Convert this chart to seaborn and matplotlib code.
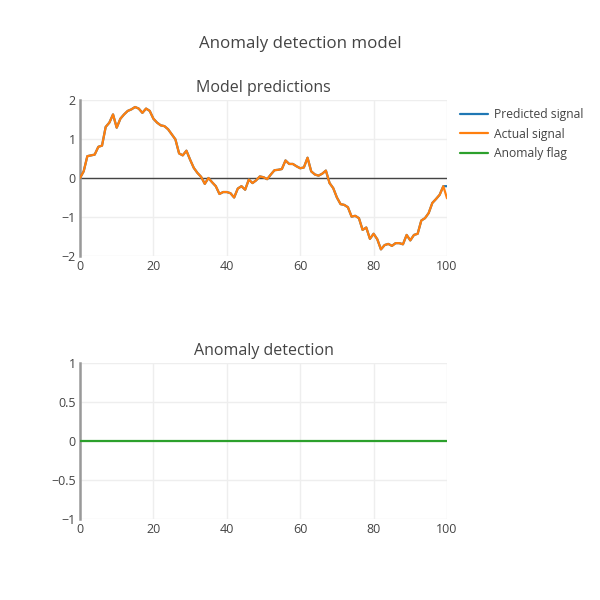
import numpy as np
import pandas as pd
import matplotlib
matplotlib.use("Agg")
import matplotlib.pyplot as plt
import seaborn as sns
from matplotlib.lines import Line2D

x_vals = list(range(0, 101))
actual = [0.00, 0.17, 0.56, 0.58, 0.60, 0.80, 0.83, 1.31, 1.42, 1.63,
          1.29, 1.52, 1.63, 1.72, 1.76, 1.82, 1.78, 1.67, 1.78, 1.72,
          1.52, 1.42, 1.35, 1.33, 1.25, 1.12, 0.99, 0.63, 0.58, 0.70,
          0.47, 0.26, 0.13, 0.03, -0.15, 0.00, -0.11, -0.21, -0.41, -0.36,
          -0.36, -0.39, -0.50, -0.27, -0.21, -0.30, -0.04, -0.13, -0.06, 0.04,
          0.02, -0.03, 0.09, 0.20, 0.21, 0.23, 0.45, 0.36, 0.36, 0.30,
          0.25, 0.27, 0.52, 0.17, 0.09, 0.06, 0.11, 0.19, -0.13, -0.26,
          -0.50, -0.67, -0.69, -0.75, -0.99, -0.97, -1.03, -1.33, -1.27, -1.56,
          -1.43, -1.57, -1.83, -1.72, -1.69, -1.74, -1.67, -1.67, -1.70, -1.46,
          -1.60, -1.46, -1.43, -1.09, -1.03, -0.90, -0.64, -0.54, -0.43, -0.21,
          -0.52]
predicted = actual[:-1] + [-0.21]
anomaly = [0] * 101

series_names = ["Predicted signal", "Actual signal", "Anomaly flag"]
colors = ["#1f77b4", "#ff7f0e", "#2ca02c"]

top_yticks = [-2, -1, 0, 1, 2]
top_ylabels = ["\u22122", "\u22121", "0", "1", "2"]
bot_yticks = [-1, -0.5, 0, 0.5, 1]
bot_ylabels = ["\u22121", "\u22120.5", "0", "0.5", "1"]
xticks = [0, 20, 40, 60, 80, 100]

sns.set_theme(style="white")
plt.rcParams['font.family'] = ['Open Sans', 'DejaVu Sans']
txt = "#444444"

fig = plt.figure(figsize=(6, 6), dpi=100)
ax1 = fig.add_axes([80/600, 1-256/600, 367/600, 156/600])
ax2 = fig.add_axes([80/600, 1-519/600, 367/600, 156/600])

df_top = pd.DataFrame({"x": x_vals * 2,
                       "y": predicted + actual,
                       "series": [series_names[0]] * 101 + [series_names[1]] * 101})
df_bot = pd.DataFrame({"x": x_vals, "y": anomaly})

for ax in (ax1, ax2):
    ax.set_xlim(0, 100)
    ax.set_xticks(xticks)
    ax.set_xticklabels([str(t) for t in xticks])
    ax.grid(True, color="#eeeeee", linewidth=1)
    ax.set_axisbelow(True)
    for s in ["top", "right", "bottom"]:
        ax.spines[s].set_visible(False)
    ax.spines["left"].set_color("#999999")
    ax.spines["left"].set_linewidth(1.8)
    ax.tick_params(axis="both", length=0, labelsize=9, colors=txt, pad=3)
    ax.set_facecolor("white")

ax1.axhline(0, color="#444444", linewidth=1, zorder=1)
sns.lineplot(data=df_top, x="x", y="y", hue="series", palette=colors[:2],
             ax=ax1, linewidth=1.6, legend=False, zorder=3)
ax1.set_ylim(-2, 2)
ax1.set_yticks(top_yticks)
ax1.set_yticklabels(top_ylabels)
ax1.set_xlabel("")
ax1.set_ylabel("")
ax1.set_title("Model predictions", fontsize=11.5, color=txt, pad=6)

sns.lineplot(data=df_bot, x="x", y="y", color=colors[2], ax=ax2, linewidth=1.6, zorder=3)
ax2.set_ylim(-1, 1)
ax2.set_yticks(bot_yticks)
ax2.set_yticklabels(bot_ylabels)
ax2.set_xlabel("")
ax2.set_ylabel("")
ax2.set_title("Anomaly detection", fontsize=11.5, color=txt, pad=6)

fig.text(0.5, 1-44/600, "Anomaly detection model", ha="center", va="center",
         fontsize=12.2, color=txt)

handles = [Line2D([0], [0], color=c, linewidth=1.6) for c in colors]
leg = fig.legend(handles, series_names, loc="upper left",
                 bbox_to_anchor=(460/600, 1-108/600), frameon=False,
                 fontsize=8.7, handlelength=2.35, handletextpad=0.5,
                 labelspacing=0.55, borderaxespad=0, borderpad=0)
for t in leg.get_texts():
    t.set_color(txt)

fig.savefig("out.png", dpi=100, facecolor="white")
